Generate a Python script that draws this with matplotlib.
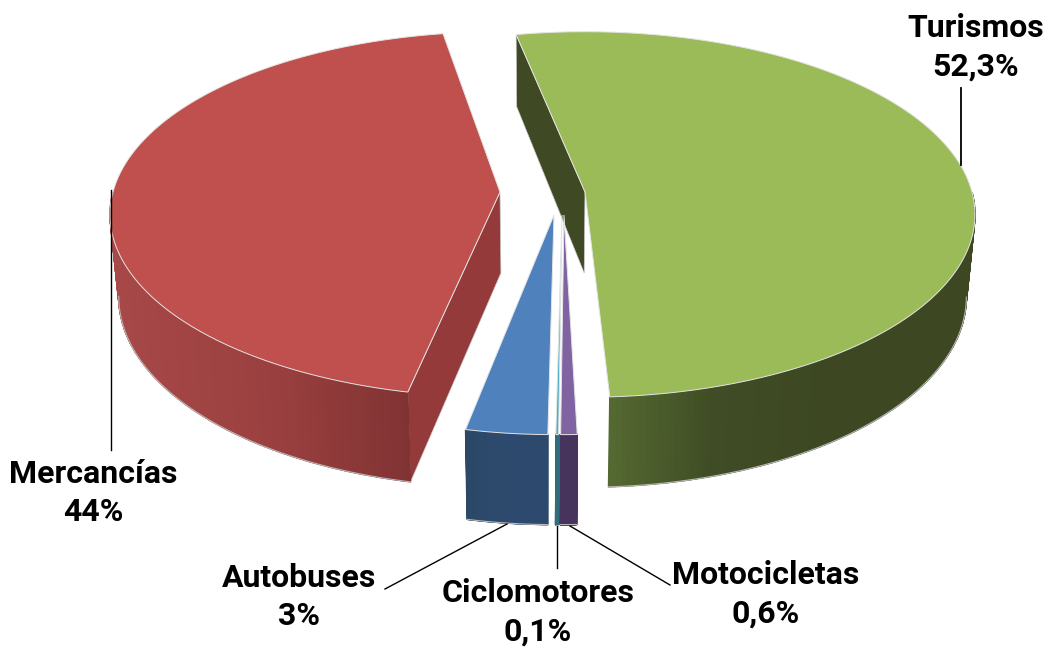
import numpy as np
import matplotlib
matplotlib.use('Agg')
import matplotlib.pyplot as plt
from matplotlib.collections import PolyCollection
from matplotlib.colors import LinearSegmentedColormap

plt.rcParams['font.family'] = ['Roboto', 'Liberation Sans', 'DejaVu Sans']

categories = ['Turismos', 'Motocicletas', 'Ciclomotores', 'Autobuses', 'Mercancías']
shares = [52.3, 0.6, 0.1, 3.0, 44.0]
share_labels = ['52,3%', '0,6%', '0,1%', '3%', '44%']

top_colors = ['#9BBB59', '#8064A2', '#4BACC6', '#4F81BD', '#C0504D']
cut_colors = ['#3F4A24', '#46345C', '#2F6C7C', '#2D4A6E', '#953A3A']
side_stops = [['#566B32', '#3F4C25', '#3D4823'],
              ['#46345C', '#46345C', '#46345C'],
              ['#2F6C7C', '#2F6C7C', '#2F6C7C'],
              ['#2C4867', '#2D4A6E', '#2D4A6E'],
              ['#A84848', '#9A3F3F', '#7A3030']]

apex_x = [585, 564, 562, 554, 500]
apex_y = [192, 215, 215, 215, 192]
y_scale = [1, 1.07, 1.07, 1.07, 1]
angle_shift = [-1.5, 0, 0, 0, 0.5]
cut_face = [True, False, False, False, True]
draw_order = [0, 4, 1, 2, 3]

start_angle = -10
R = 387
ry = 180
k = 0.123
cx = 545
shrink = 0.98


def top_pt(i, th):
    s = 1 / (1 + k * np.cos(th))
    return apex_x[i] + R * np.sin(th) * s, apex_y[i] - ry * y_scale[i] * np.cos(th) * s


def bottom_pt(i, x, y, th):
    d = 81 - 9 * np.cos(th)
    return cx + (x - cx) * shrink, y + d


fig = plt.figure(figsize=(10.5, 6.49), dpi=100)
ax = fig.add_axes([0, 0, 1, 1])
ax.set_xlim(0, 1050)
ax.set_ylim(649, 0)
ax.axis('off')

edges = np.cumsum([0] + shares) / 100 * 2 * np.pi + np.radians(start_angle)

for i in draw_order:
    z = 1 + draw_order.index(i)
    shift = np.radians(angle_shift[i])
    th = np.linspace(edges[i] + shift, edges[i + 1] + shift, 240)
    x, y = top_pt(i, th)
    bx, by = bottom_pt(i, x, y, th)
    ax0, ay0 = apex_x[i], apex_y[i]
    bx0, by0 = bottom_pt(i, ax0, ay0, np.pi / 2)

    # cut face that faces the viewer
    if cut_face[i]:
        ax.fill([ax0, x[0], bx[0], bx0], [ay0, y[0], by[0], by0],
                color=cut_colors[i], ec='#c8c8c8', lw=0.5, zorder=z)

    # outer wall, only the part in front
    front = np.where(np.cos(th) < 0)[0]
    quads = [[(x[j], y[j]), (x[j + 1], y[j + 1]), (bx[j + 1], by[j + 1]), (bx[j], by[j])]
             for j in front[:-1]]
    cmap = LinearSegmentedColormap.from_list('side', side_stops[i])
    xf = x[front[:-1]]
    if i == 0:
        t = np.clip((xf - 607) / 220, 0, 1)
    else:
        t = (xf - x.min()) / max(np.ptp(x), 1)
    ax.add_collection(PolyCollection(quads, facecolors=cmap(t), edgecolors=cmap(t),
                                     lw=1.0, zorder=z))
    rim = np.cos(th) < -0.12
    ax.plot(bx[rim], by[rim], color='#b8b8b8', lw=0.8, zorder=z)

    # top face
    ax.fill(np.r_[ax0, x], np.r_[ay0, y], color=top_colors[i], ec='#e4e4e4', lw=0.7,
            zorder=z + 0.5)

# leader lines
ax.plot([961, 961], [88, 165], color='black', lw=1.3, zorder=10)
ax.plot([111, 111], [190, 450], color='black', lw=1.0, zorder=10)
ax.plot([385, 507], [589, 524], color='black', lw=1.0, zorder=10)
ax.plot([557, 557], [526, 568], color='black', lw=1.0, zorder=10)
ax.plot([570, 670], [526, 585], color='black', lw=1.0, zorder=10)

label_x = [976, 766, 538, 299, 93]
label_y = [47, 594, 612, 597, 493]
for name, pct, lx, ly in zip(categories, share_labels, label_x, label_y):
    ax.text(lx, ly, name + '\n' + pct, ha='center', va='center', fontsize=23,
            fontweight='bold', linespacing=1.35, color='black', zorder=11)

plt.savefig('out.png', dpi=100)
